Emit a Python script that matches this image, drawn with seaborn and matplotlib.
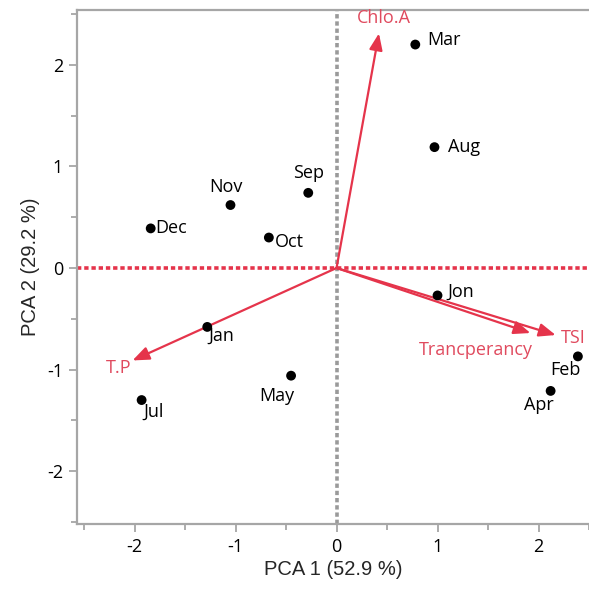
import matplotlib
matplotlib.use("Agg")
import matplotlib.pyplot as plt
import seaborn as sns
import pandas as pd

# PCA scores (months)
months = ["Mar", "Aug", "Sep", "Nov", "Dec", "Oct", "Jon", "Jan", "May", "Jul", "Feb", "Apr"]
pc1 = [0.78, 0.97, -0.28, -1.05, -1.84, -0.67, 1.00, -1.28, -0.45, -1.93, 2.39, 2.12]
pc2 = [2.20, 1.19, 0.74, 0.62, 0.39, 0.30, -0.27, -0.58, -1.06, -1.30, -0.87, -1.21]

# loadings (arrows)
variables = ["Chlo.A", "T.P", "TSI", "Trancperancy"]
load1 = [0.42, -2.02, 2.17, 1.92]
load2 = [2.31, -0.91, -0.66, -0.64]

# label offsets in pixels (dx, dy, ha)
month_offsets = {
    "Mar": (12, 5, "left"), "Aug": (14, 0, "left"), "Sep": (0, 20, "center"),
    "Nov": (-5, 18, "center"), "Dec": (5, 0, "left"), "Oct": (6, -4, "left"),
    "Jon": (10, 4, "left"), "Jan": (1, -9, "left"), "May": (-14, -20, "center"),
    "Jul": (12, -12, "center"), "Feb": (-12, -14, "center"), "Apr": (-12, -14, "center"),
}
var_offsets = {
    "Chlo.A": (5, 15, "center"), "T.P": (-14, -8, "center"),
    "TSI": (5, -3, "left"), "Trancperancy": (-55, -17, "center"),
}

df = pd.DataFrame({"month": months, "pc1": pc1, "pc2": pc2})

sns.set_style("white")
plt.rcParams["font.family"] = ["Open Sans", "DejaVu Sans"]
plt.rcParams["axes.unicode_minus"] = False

red = "#e5344b"
red_txt = "#e04a5e"
spine_col = "#a6a6a6"

fig = plt.figure(figsize=(5.89, 5.89), dpi=100)
ax = fig.add_axes([0.1307, 0.1104, 0.8693, 0.8726])

ax.axvline(0, color="#9a9a9a", lw=2.6, ls=(0, (1.2, 0.8)), zorder=1)
ax.axhline(0, color=red, lw=2.6, ls=(0, (1.2, 0.8)), zorder=1)

for v, x, y in zip(variables, load1, load2):
    ax.annotate("", xy=(x, y), xytext=(0, 0),
                arrowprops=dict(arrowstyle="-|>,head_length=1.0,head_width=0.4",
                                color=red, lw=1.6, shrinkA=0, shrinkB=0),
                zorder=2)
    dx, dy, ha = var_offsets[v]
    ax.annotate(v, xy=(x, y), xytext=(dx, dy), textcoords="offset pixels",
                ha=ha, va="center", color=red_txt, fontsize=13, zorder=3)

sns.scatterplot(data=df, x="pc1", y="pc2", color="black", s=50,
                edgecolor="none", ax=ax, zorder=4)

for m, x, y in zip(months, pc1, pc2):
    dx, dy, ha = month_offsets[m]
    ax.annotate(m, xy=(x, y), xytext=(dx, dy), textcoords="offset pixels",
                ha=ha, va="center", color="black", fontsize=13, zorder=5)

ax.set_xlim(-2.57, 2.48)
ax.set_ylim(-2.52, 2.54)
ax.set_xticks([-2, -1, 0, 1, 2])
ax.set_yticks([-2, -1, 0, 1, 2])
ax.set_xticks([-2.5, -1.5, -0.5, 0.5, 1.5, 2.5], minor=True)
ax.set_yticks([-2.5, -1.5, -0.5, 0.5, 1.5, 2.5], minor=True)
ax.tick_params(which="major", length=6, width=1.3, color=spine_col,
               labelsize=13, labelcolor="black", pad=4)
ax.tick_params(which="minor", length=4, width=1.3, color=spine_col)
ax.tick_params(axis="x", which="both", bottom=True)
ax.tick_params(axis="y", which="both", left=True)

for side in ["left", "bottom", "top"]:
    ax.spines[side].set_color(spine_col)
    ax.spines[side].set_linewidth(1.6)
ax.spines["right"].set_visible(False)

ax.set_xlabel("PCA 1 (52.9 %)", fontsize=14.5, family="Liberation Sans", labelpad=3)
ax.set_ylabel("PCA 2 (29.2 %)", fontsize=14.5, family="Liberation Sans", labelpad=5)

fig.savefig("out.png", dpi=100)
